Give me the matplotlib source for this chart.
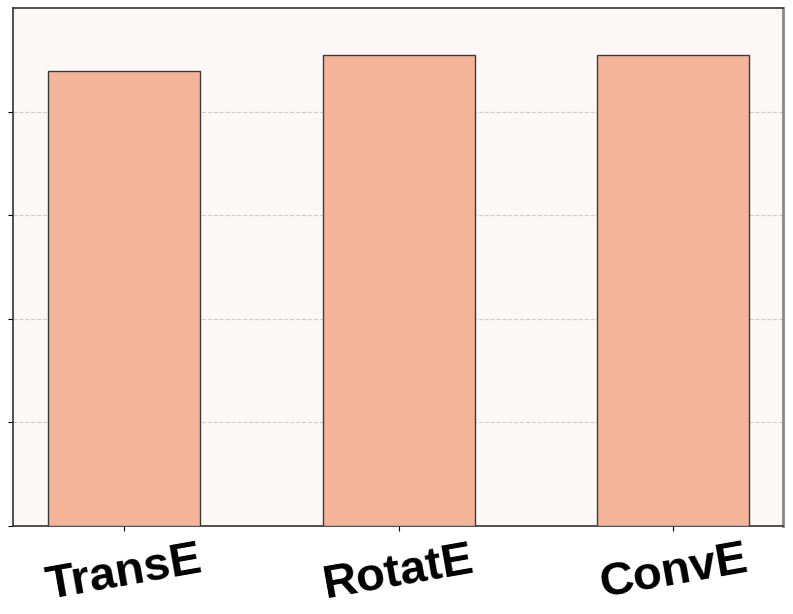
import matplotlib.pyplot as plt
from matplotlib import rcParams

rcParams['font.family'] = ['Liberation Sans', 'DejaVu Sans']

# 数据
models = ['TransE', 'RotatE', 'ConvE']
scores = [0.878, 0.909, 0.909]
y_ticks = [0.0, 0.2, 0.4, 0.6, 0.8]

fig = plt.figure(figsize=(7.93, 6.14), dpi=100)
ax = fig.add_axes([13 / 793, 88 / 614, 770 / 793, 518 / 614])
ax.set_facecolor('#fcf8f5')

x = range(len(models))
ax.bar(x, scores, width=0.555, color='#f4b49a', edgecolor='#3a3a3a', linewidth=1.0, zorder=3)

ax.set_xlim(-0.405, 2.4)
ax.set_ylim(0, 1.0)
ax.set_yticks(y_ticks)
ax.set_yticklabels([])
ax.grid(axis='y', linestyle='--', color='#cccccc', linewidth=0.8, zorder=0)

ax.set_xticks(list(x))
ax.set_xticklabels(models, fontsize=34, fontweight='bold', rotation=10)
ax.tick_params(axis='x', pad=5)

for s in ax.spines.values():
    s.set_color('#333333')
    s.set_linewidth(1.2)
ax.spines['right'].set_color('#888888')
ax.spines['right'].set_linewidth(2)

fig.savefig('out.png', dpi=100)
